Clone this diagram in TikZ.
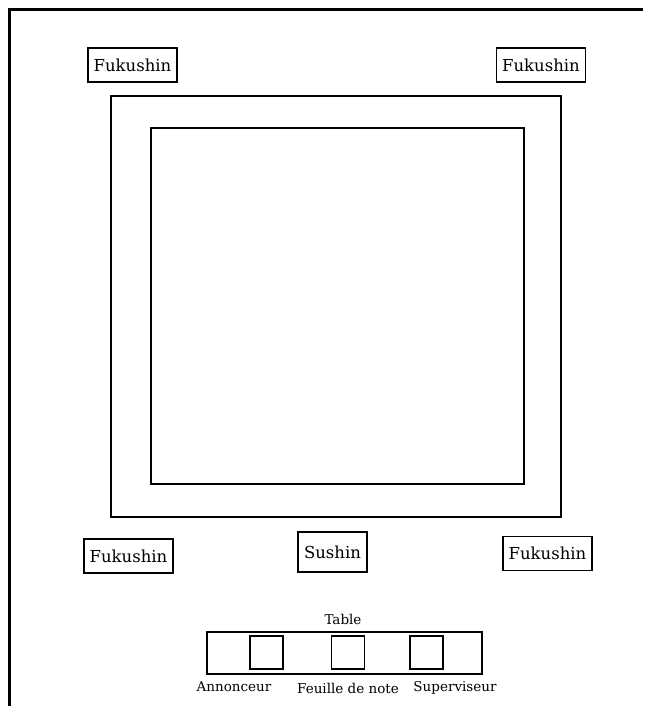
\documentclass[tikz,border=0pt]{standalone}
\usepackage{fontspec}
\setmainfont{DejaVu Serif}
\usepackage{tikz}
\usetikzlibrary{positioning}

\begin{document}
\begin{tikzpicture}[x=1pt, y=-1pt,
        judge/.style={draw, line width=1.6pt, inner sep=0pt, minimum width=89, minimum height=34, font=\fontsize{16.5}{18}\selectfont},
        seat/.style={draw, line width=1.6pt, inner sep=0pt, minimum size=33},
        lbl/.style={inner sep=0pt, font=\fontsize{13.5}{15}\selectfont}]
        \useasboundingbox (0,0) rectangle (647,706);

        % Frame
        \draw[line width=3pt] (9,706) -- (9,10) -- (643,10);

        % Mat
        \draw[line width=1.8pt] (111,96) rectangle (561,517);
        \draw[line width=1.8pt] (151,128) rectangle (524,484);

        % Judges
        \node[judge] (fuk1) at (132.5,65) {Fukushin};
        \node[judge] (fuk2) at (541,65) {Fukushin};
        \node[judge] (fuk3) at (128.5,556) {Fukushin};
        \node[judge] (fuk4) at (547.5,553.5) {Fukushin};
        \node[judge, minimum width=69, minimum height=40] (sushin) at (332.5,552) {Sushin};

        % Table
        \node[draw, line width=1.8pt, minimum width=275, minimum height=42, inner sep=0pt] (table) at (344.5,653) {};
        \node[lbl] (tablelbl) at (343,619) {Table};
        \foreach \x/\n in {266.5/ann, 348/feuille, 426.5/sup} {
            \node[seat] (\n) at (\x,652.5) {};
        }
        \node[lbl] (annlbl) at (234,687) {Annonceur};
        \node[lbl] (feuillelbl) at (348,688) {Feuille de note};
        \node[lbl] (suplbl) at (455,688) {Superviseur};
    \end{tikzpicture}
\end{document}
